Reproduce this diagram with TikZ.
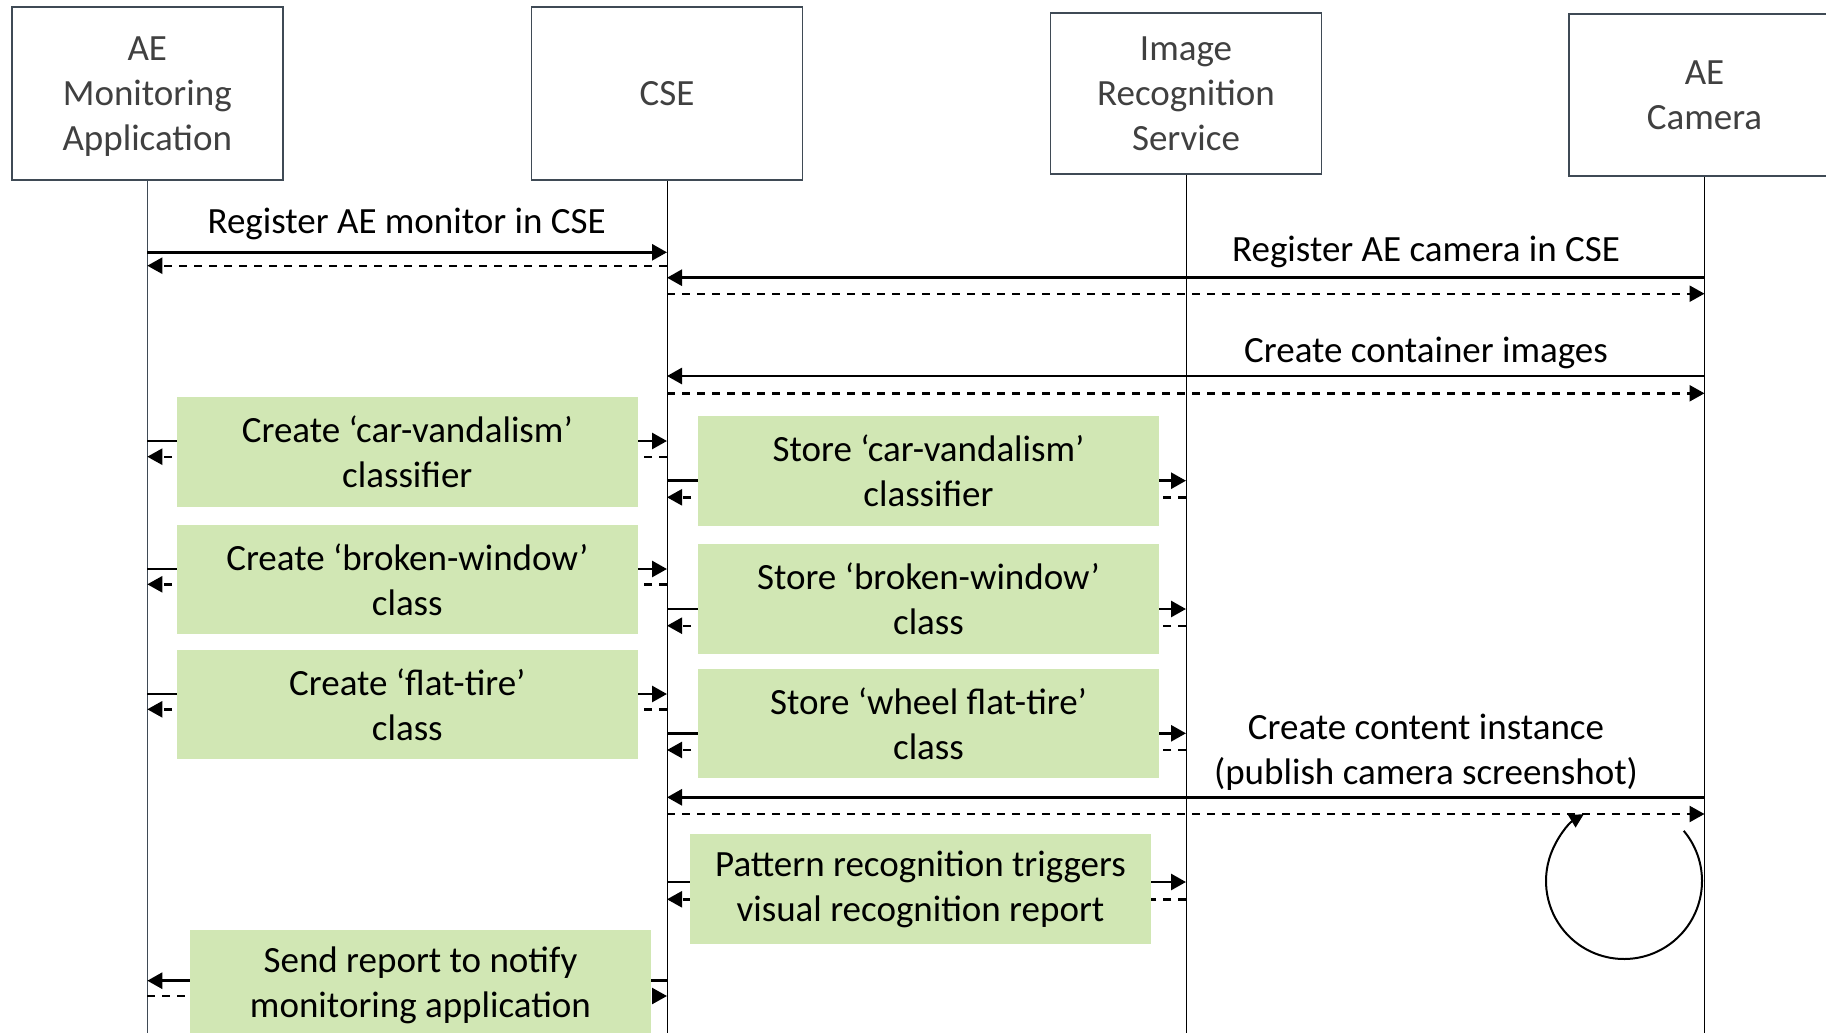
\documentclass[tikz,border=0pt]{standalone}
\usepackage{fontspec}
\setmainfont{Carlito}
\usetikzlibrary{arrows.meta}

\definecolor{boxline}{HTML}{3F4A55}
\definecolor{headtext}{HTML}{404040}
\definecolor{stepgreen}{HTML}{D1E7B4}

\tikzset{
  entity/.style={draw=boxline, line width=0.9pt, fill=white, text=headtext, align=center,
    minimum width=135.5pt, minimum height=86.5pt, inner sep=0pt, text depth=0pt},
  lifeline/.style={line width=0.5pt},
  action/.style={fill=stepgreen, align=center, minimum width=230.5pt, minimum height=54.75pt, inner sep=0pt},
  call/.style={-{Triangle[length=7.5pt,width=8pt]}, line width=1.4pt},
  reply/.style={-{Triangle[length=7.5pt,width=8pt]}, line width=1.2pt, dash pattern=on 4pt off 3.5pt},
  label/.style={align=center, inner sep=0pt}
}

\begin{document}
\begin{tikzpicture}[x=0.5pt, y=-0.5pt, font=\fontsize{18.5}{22.5}\selectfont]
	\clip (0,0) rectangle (1826,1033);
	% participants
	\node[entity] (mon) at (147.3,93.8) {AE\\Monitoring\\Application};
	\node[entity] (cse) at (667,93.8) {CSE};
	\node[entity, minimum height=80.5pt] (irs) at (1186,93.3) {Image\\Recognition\\Service};
	\node[entity, minimum height=81pt] (cam) at (1704.5,95) {AE\\Camera};
	\coordinate (bottom) at (0,1040);
	\draw[lifeline, draw=boxline] (mon.south) -- (mon.south |- bottom);
	\draw[lifeline] (cse.south) -- (cse.south |- bottom);
	\draw[lifeline] (irs.south) -- (irs.south |- bottom);
	\draw[lifeline] (cam.south) -- (cam.south |- bottom);

	% registration
	\draw[call] (mon |- 0,252.3) -- (cse |- 0,252.3);
	\draw[reply] (cse |- 0,265.7) -- (mon |- 0,265.7);
	\node[label] (regmon) at (406.7,224) {Register AE monitor in CSE};
	\draw[call] (cam |- 0,277.7) -- (cse |- 0,277.7);
	\draw[reply] (cse |- 0,293.7) -- (cam |- 0,293.7);
	\node[label] (regcam) at (1426,251.7) {Register AE camera in CSE};
	\draw[call] (cam |- 0,376) -- (cse |- 0,376);
	\draw[reply] (cse |- 0,393.3) -- (cam |- 0,393.3);
	\node[label] (cont) at (1426,353.3) {Create container images};

	% classifier and classes
	\draw[call] (mon |- 0,441) -- (cse |- 0,441);
	\draw[reply] (cse |- 0,456.7) -- (mon |- 0,456.7);
	\draw[call] (mon |- 0,569) -- (cse |- 0,569);
	\draw[reply] (cse |- 0,584.3) -- (mon |- 0,584.3);
	\draw[call] (mon |- 0,694) -- (cse |- 0,694);
	\draw[reply] (cse |- 0,709.3) -- (mon |- 0,709.3);
	\draw[call] (cse |- 0,480.7) -- (irs |- 0,480.7);
	\draw[reply] (irs |- 0,497.3) -- (cse |- 0,497.3);
	\draw[call] (cse |- 0,609) -- (irs |- 0,609);
	\draw[reply] (irs |- 0,625.7) -- (cse |- 0,625.7);
	\draw[call] (cse |- 0,733.3) -- (irs |- 0,733.3);
	\draw[reply] (irs |- 0,750) -- (cse |- 0,750);
	\node[action] (mkclf) at (407.3,452) {Create ‘car-vandalism’\\classifier};
	\node[action] (mkwin) at (407.3,579.5) {Create ‘broken-window’\\class};
	\node[action] (mktire) at (407.3,704.7) {Create ‘flat-tire’\\class};
	\node[action] (stclf) at (928.5,470.8) {Store ‘car-vandalism’\\classifier};
	\node[action] (stwin) at (928.5,598.8) {Store ‘broken-window’\\class};
	\node[action] (sttire) at (928.5,723.5) {Store ‘wheel flat-tire’\\class};

	% screenshot
	\draw[call] (cam |- 0,797.3) -- (cse |- 0,797.3);
	\draw[reply] (cse |- 0,814) -- (cam |- 0,814);
	\node[label] (inst) at (1426,752) {Create content instance\\(publish camera screenshot)};
	\coordinate (loop) at (1624,881);
	\draw[-{Triangle[length=7pt,width=7pt]}, line width=1pt] ([shift={(-40:78)}]loop) arc[start angle=-40, end angle=239, radius=78];

	% report
	\draw[call] (cse |- 0,882) -- (irs |- 0,882);
	\draw[reply] (irs |- 0,899.3) -- (cse |- 0,899.3);
	\node[action] (pattern) at (920.5,889) {Pattern recognition triggers\\visual recognition report};
	\draw[call] (cse |- 0,980.7) -- (mon |- 0,980.7);
	\draw[reply] (mon |- 0,996) -- (cse |- 0,996);
	\node[action] (notify) at (420.5,985) {Send report to notify\\monitoring application};
\end{tikzpicture}
\end{document}
